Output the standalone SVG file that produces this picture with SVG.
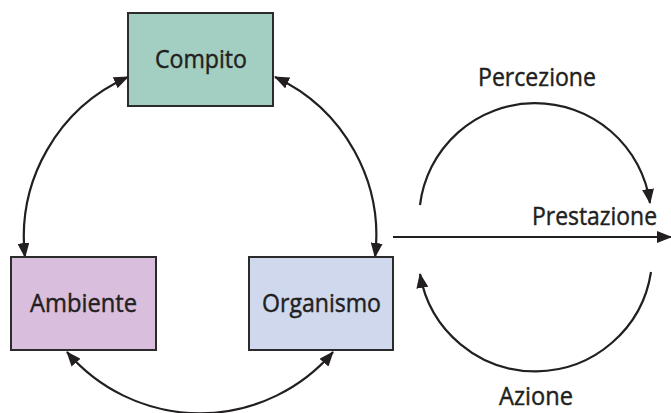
<svg xmlns="http://www.w3.org/2000/svg" width="671" height="413" viewBox="0 0 671 413">
<defs>
<style>
.box{stroke:#2b2b2b;stroke-width:2}
.lbl{font-family:"Open Sans","Noto Sans",sans-serif;font-size:25px;fill:#231f20;stroke:#231f20;stroke-width:0.45px}
.con{fill:none;stroke:#231f20;stroke-width:2.2}
</style>
<marker id="ah" viewBox="0 0 15 12" refX="14" refY="6" markerWidth="15" markerHeight="12" markerUnits="userSpaceOnUse" orient="auto-start-reverse">
<path d="M0,0 L15,6 L0,12 z" fill="#231f20"/>
</marker>
</defs>
<rect width="671" height="413" fill="#ffffff"/>
<g id="connectors">
<path class="con" d="M128,77 A175,175 0 0 0 25,257" marker-start="url(#ah)" marker-end="url(#ah)"/>
<path class="con" d="M275,77 A175,175 0 0 1 375,257" marker-start="url(#ah)" marker-end="url(#ah)"/>
<path class="con" d="M67,352 A175,175 0 0 0 333,352" marker-start="url(#ah)" marker-end="url(#ah)"/>
<path class="con" d="M420,205 A116,116 0 0 1 650,203" marker-end="url(#ah)"/>
<path class="con" d="M651,272 A117,117 0 0 1 420,274" marker-end="url(#ah)"/>
<path class="con" d="M393,237 L671,237" marker-end="url(#ah)"/>
</g>
<g id="compito">
<rect class="box" x="128" y="13" width="145" height="93" fill="#a3cfc2"/>
<text class="lbl" x="155" y="68" textLength="92" lengthAdjust="spacingAndGlyphs">Compito</text>
</g>
<g id="ambiente">
<rect class="box" x="11" y="257" width="145" height="93" fill="#d9bedd"/>
<text class="lbl" x="30" y="312" textLength="107" lengthAdjust="spacingAndGlyphs">Ambiente</text>
</g>
<g id="organismo">
<rect class="box" x="249" y="257" width="144" height="93" fill="#cfd8ec"/>
<text class="lbl" x="262" y="312" textLength="119" lengthAdjust="spacingAndGlyphs">Organismo</text>
</g>
<g id="labels">
<text class="lbl" x="478" y="86" textLength="118" lengthAdjust="spacingAndGlyphs">Percezione</text>
<text class="lbl" x="532" y="225" textLength="125" lengthAdjust="spacingAndGlyphs">Prestazione</text>
<text class="lbl" x="499" y="405" textLength="74" lengthAdjust="spacingAndGlyphs">Azione</text>
</g>
</svg>
